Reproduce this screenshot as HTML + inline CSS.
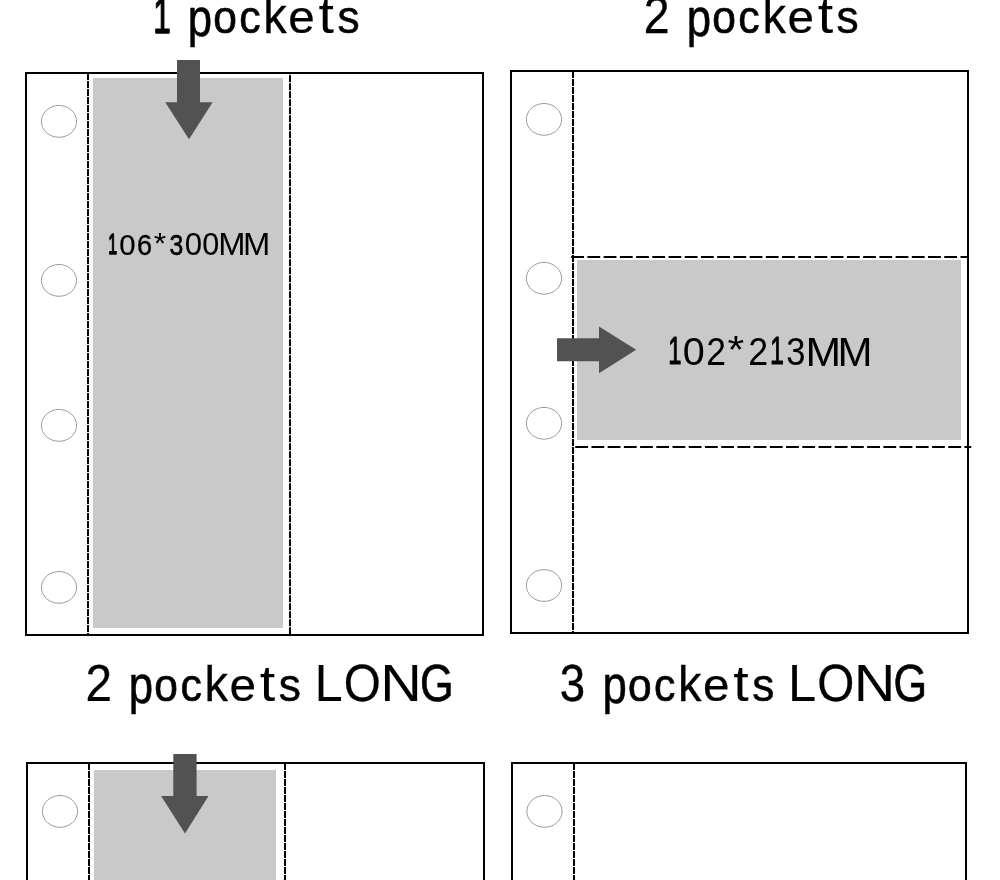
<!DOCTYPE html>
<html><head><meta charset="utf-8">
<style>
html,body{margin:0;padding:0;background:#fff;width:1000px;height:880px;overflow:hidden;}
svg{position:absolute;left:0;top:0;display:block;will-change:transform;}
text{font-family:"Liberation Sans",sans-serif;fill:#000;font-size:100px;stroke:#000;stroke-linejoin:round;}
</style></head>
<body>
<svg width="1000" height="880" viewBox="0 0 1000 880">
<!-- titles -->

<!-- Panel 1 -->
<rect x="93" y="78" width="190" height="550" fill="#c9c9c9"/>
<rect x="26" y="73" width="457" height="562" fill="none" stroke="#000" stroke-width="2"/>
<line x1="88" y1="73" x2="88" y2="635" stroke="#000" stroke-width="2" stroke-dasharray="7 1"/>
<line x1="290" y1="73" x2="290" y2="635" stroke="#000" stroke-width="2" stroke-dasharray="7 1" stroke-dashoffset="5.7"/>
<g fill="none" stroke="#999" stroke-width="1">
<ellipse cx="59" cy="121.4" rx="17.6" ry="15.9"/>
<ellipse cx="59" cy="280.4" rx="17.6" ry="15.9"/>
<ellipse cx="59" cy="425.4" rx="17.6" ry="15.9"/>
<ellipse cx="59" cy="587.4" rx="17.6" ry="15.9"/>
</g>
<polygon fill="#525252" points="177,60 200,60 200,102.3 212.6,102.3 189,139.2 165.2,102.3 177,102.3"/>

<!-- Panel 2 -->
<rect x="577" y="260" width="384" height="180" fill="#c9c9c9"/>
<rect x="511" y="71" width="457" height="562" fill="none" stroke="#000" stroke-width="2"/>
<line x1="573" y1="71" x2="573" y2="633" stroke="#000" stroke-width="2" stroke-dasharray="7 1"/>
<line x1="571.2" y1="257" x2="968" y2="257" stroke="#000" stroke-width="2" stroke-dasharray="12.8 3.42"/>
<line x1="575.2" y1="447" x2="971.2" y2="447" stroke="#000" stroke-width="2" stroke-dasharray="12.8 3.42"/>
<g fill="none" stroke="#999" stroke-width="1">
<ellipse cx="544" cy="119.4" rx="17.6" ry="15.9"/>
<ellipse cx="544" cy="278.3" rx="17.6" ry="15.9"/>
<ellipse cx="544" cy="423.3" rx="17.6" ry="15.9"/>
<ellipse cx="544" cy="585.5" rx="17.6" ry="15.9"/>
</g>
<polygon fill="#525252" points="557,338.3 599,338.3 599,326.5 636.2,349.8 599,373.2 599,361.2 557,361.2"/>

<!-- Panel 3 -->
<rect x="94" y="770" width="182" height="200" fill="#c9c9c9"/>
<rect x="27" y="763" width="457" height="562" fill="none" stroke="#000" stroke-width="2"/>
<line x1="89" y1="763" x2="89" y2="880" stroke="#000" stroke-width="2" stroke-dasharray="7 1"/>
<line x1="285" y1="763" x2="285" y2="880" stroke="#000" stroke-width="2" stroke-dasharray="7 1"/>
<ellipse cx="60" cy="811.4" rx="17.6" ry="15.9" fill="none" stroke="#999" stroke-width="1"/>
<polygon fill="#525252" points="173.3,754.1 196.6,754.1 196.6,796.1 208.5,796.1 185,833.4 161.1,796.1 173.3,796.1"/>

<!-- Panel 4 -->
<rect x="512" y="763" width="454" height="562" fill="none" stroke="#000" stroke-width="2"/>
<line x1="574" y1="763" x2="574" y2="880" stroke="#000" stroke-width="2" stroke-dasharray="7 1"/>
<ellipse cx="544.5" cy="811.4" rx="17.6" ry="15.9" fill="none" stroke="#999" stroke-width="1"/>
<g>
<text transform="matrix(0.3154 0 0 0.5058 153.20 32.80)" stroke-width="2.92">1</text>
<text transform="matrix(0.4371 0 0 0.5349 187.65 35.63)" stroke-width="1.12">p</text>
<text transform="matrix(0.4249 0 0 0.4556 213.14 33.24)" stroke-width="1.45">o</text>
<text transform="matrix(0.4291 0 0 0.4564 239.18 33.26)" stroke-width="1.35">c</text>
<text transform="matrix(0.4701 0 0 0.5066 263.28 33.25)" stroke-width="0.60">k</text>
<text transform="matrix(0.4763 0 0 0.4627 288.30 33.42)" stroke-width="0.53">e</text>
<text transform="matrix(0.5565 0 0 0.5059 318.55 33.30)" stroke-width="0.00">t</text>
<text transform="matrix(0.4427 0 0 0.4594 337.52 33.30)" stroke-width="1.10">s</text>
<text transform="matrix(0.4645 0 0 0.5108 643.83 33.23)" stroke-width="0.69">2</text>
<text transform="matrix(0.4371 0 0 0.5349 686.75 35.63)" stroke-width="1.12">p</text>
<text transform="matrix(0.4249 0 0 0.4556 712.24 33.24)" stroke-width="1.45">o</text>
<text transform="matrix(0.4291 0 0 0.4564 738.28 33.26)" stroke-width="1.35">c</text>
<text transform="matrix(0.4701 0 0 0.5066 762.38 33.25)" stroke-width="0.60">k</text>
<text transform="matrix(0.4763 0 0 0.4627 787.40 33.42)" stroke-width="0.53">e</text>
<text transform="matrix(0.5565 0 0 0.5059 817.65 33.30)" stroke-width="0.00">t</text>
<text transform="matrix(0.4427 0 0 0.4594 836.62 33.30)" stroke-width="1.10">s</text>
<text transform="matrix(0.4777 0 0 0.5122 85.52 700.88)" stroke-width="0.48">2</text>
<text transform="matrix(0.4371 0 0 0.5349 128.85 703.23)" stroke-width="1.12">p</text>
<text transform="matrix(0.4249 0 0 0.4556 154.34 700.84)" stroke-width="1.45">o</text>
<text transform="matrix(0.4291 0 0 0.4564 180.38 700.86)" stroke-width="1.35">c</text>
<text transform="matrix(0.4701 0 0 0.5066 204.48 700.85)" stroke-width="0.60">k</text>
<text transform="matrix(0.4763 0 0 0.4627 229.50 701.02)" stroke-width="0.53">e</text>
<text transform="matrix(0.5565 0 0 0.5059 259.75 700.90)" stroke-width="0.00">t</text>
<text transform="matrix(0.4427 0 0 0.4594 278.72 700.90)" stroke-width="1.10">s</text>
<text transform="matrix(0.5078 0 0 0.5231 314.44 701.39)" stroke-width="0.02">L</text>
<text transform="matrix(0.4767 0 0 0.5175 343.67 700.96)" stroke-width="0.52">O</text>
<text transform="matrix(0.5756 0 0 0.5233 380.20 701.40)" stroke-width="0.00">N</text>
<text transform="matrix(0.4317 0 0 0.5125 419.94 700.79)" stroke-width="1.30">G</text>
<text transform="matrix(0.4554 0 0 0.5140 559.87 700.79)" stroke-width="0.84">3</text>
<text transform="matrix(0.4371 0 0 0.5349 602.45 703.23)" stroke-width="1.12">p</text>
<text transform="matrix(0.4249 0 0 0.4556 627.94 700.84)" stroke-width="1.45">o</text>
<text transform="matrix(0.4291 0 0 0.4564 653.98 700.86)" stroke-width="1.35">c</text>
<text transform="matrix(0.4701 0 0 0.5066 678.08 700.85)" stroke-width="0.60">k</text>
<text transform="matrix(0.4763 0 0 0.4627 703.10 701.02)" stroke-width="0.53">e</text>
<text transform="matrix(0.5565 0 0 0.5059 733.35 700.90)" stroke-width="0.00">t</text>
<text transform="matrix(0.4427 0 0 0.4594 752.32 700.90)" stroke-width="1.10">s</text>
<text transform="matrix(0.5078 0 0 0.5231 788.04 701.39)" stroke-width="0.02">L</text>
<text transform="matrix(0.4767 0 0 0.5175 817.27 700.96)" stroke-width="0.52">O</text>
<text transform="matrix(0.5756 0 0 0.5233 853.80 701.40)" stroke-width="0.00">N</text>
<text transform="matrix(0.4317 0 0 0.5125 893.54 700.79)" stroke-width="1.30">G</text>
<text transform="matrix(0.1600 0 0 0.2878 108.28 254.10)" stroke-width="5.36">1</text>
<text transform="matrix(0.2925 0 0 0.3034 119.17 254.80)" stroke-width="0.73">0</text>
<text transform="matrix(0.2714 0 0 0.3012 137.11 254.72)" stroke-width="1.31">6</text>
<text transform="matrix(0.3192 0 0 0.2902 153.68 253.37)" stroke-width="0.04">*</text>
<text transform="matrix(0.2477 0 0 0.2986 169.43 254.63)" stroke-width="2.04">3</text>
<text transform="matrix(0.3124 0 0 0.3056 184.81 254.87)" stroke-width="0.21">0</text>
<text transform="matrix(0.3050 0 0 0.3048 202.27 254.84)" stroke-width="0.40">0</text>
<text transform="matrix(0.3274 0 0 0.3154 218.31 255.40)" stroke-width="0.00">M</text>
<text transform="matrix(0.3274 0 0 0.3154 242.91 255.40)" stroke-width="0.00">M</text>
<text transform="matrix(0.2372 0 0 0.3826 668.33 364.26)" stroke-width="2.82">1</text>
<text transform="matrix(0.3954 0 0 0.3955 682.86 364.81)" stroke-width="0.00">0</text>
<text transform="matrix(0.3556 0 0 0.3895 706.31 364.70)" stroke-width="0.00">2</text>
<text transform="matrix(0.4293 0 0 0.3902 727.54 363.15)" stroke-width="0.00">*</text>
<text transform="matrix(0.3578 0 0 0.3895 748.30 364.70)" stroke-width="0.00">2</text>
<text transform="matrix(0.2512 0 0 0.3842 770.07 364.32)" stroke-width="2.42">1</text>
<text transform="matrix(0.3443 0 0 0.3944 786.33 364.78)" stroke-width="0.20">3</text>
<text transform="matrix(0.4275 0 0 0.4041 805.49 365.50)" stroke-width="0.00">M</text>
<text transform="matrix(0.4201 0 0 0.4041 837.45 365.50)" stroke-width="0.00">M</text>
</g>
</svg>
</body></html>
